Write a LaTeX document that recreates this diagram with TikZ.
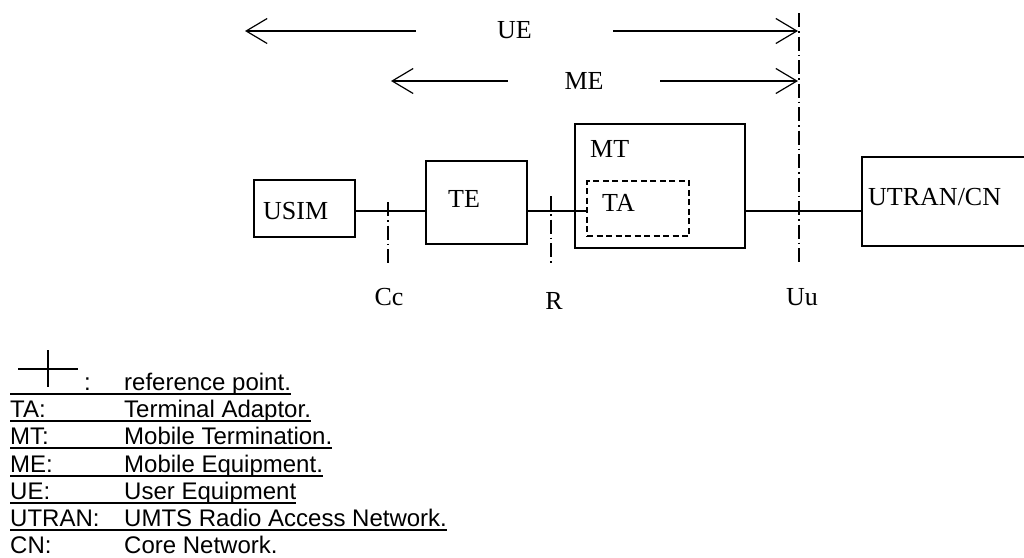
\documentclass[tikz,border=0pt]{standalone}
\usepackage{fontspec}
\setmainfont{Liberation Serif}
\newfontfamily\legendfont{Liberation Sans}
\usetikzlibrary{arrows.meta}

\begin{document}
\begin{tikzpicture}[x=1pt,y=-1pt,
    box/.style={draw,line width=1.5pt,inner sep=0pt,anchor=north west},
    lbl/.style={inner sep=0pt,font=\fontsize{26pt}{30pt}\selectfont},
    leg/.style={inner sep=0pt,anchor=base west,font=\legendfont\fontsize{24pt}{28pt}\selectfont},
    wire/.style={line width=1.5pt},
    arr/.style={line width=1.2pt,-{Straight Barb[length=21pt,width=25pt,line width=1.2pt]}},
    refline/.style={line width=1.3pt,dash pattern=on 14pt off 4pt on 1.5pt off 4pt},
    uline/.style={line width=2pt}]
    \useasboundingbox (0,0) rectangle (1024,557);
    \clip (0,0) rectangle (1024,557);
    % boxes
    \node[box,minimum width=101pt,minimum height=57pt] (usim) at (253,179) {};
    \node[box,minimum width=101pt,minimum height=83pt] (te) at (425,160) {};
    \node[box,minimum width=170pt,minimum height=124pt] (mt) at (574,123) {};
    \node[box,line width=2pt,dash pattern=on 6pt off 3.5pt,minimum width=102pt,minimum height=55pt] (ta) at (586,180) {};
    \node[box,minimum width=190pt,minimum height=89pt] (utran) at (861,156) {};
    \node[lbl,anchor=base west] (usimtxt) at (263,219) {USIM};
    \node[lbl,anchor=base west] (tetxt) at (448,207) {TE};
    \node[lbl,anchor=base west] (mttxt) at (590,157) {MT};
    \node[lbl,anchor=base west] (tatxt) at (602,211) {TA};
    \node[lbl,anchor=base west] (utrantxt) at (868,205) {UTRAN/CN};
    % links
    \coordinate (bus) at (0,211);
    \draw[wire] (usim.east |- bus) -- (te.west |- bus);
    \draw[wire] (te.east |- bus) -- (ta.west |- bus);
    \draw[wire] (mt.east |- bus) -- (utran.west |- bus);
    % reference points
    \coordinate (cctop) at (388,202);
    \coordinate (ccbot) at (388,263);
    \coordinate (rtop) at (551,196);
    \coordinate (rbot) at (551,264);
    \coordinate (uutop) at (799,13);
    \coordinate (uubot) at (799,262);
    \draw[refline] (cctop) -- (ccbot);
    \draw[refline] (rtop) -- (rbot);
    \draw[refline] (uutop) -- (uubot);
    \node[lbl,anchor=base] (cc) at (389,305) {Cc};
    \node[lbl,anchor=base] (r) at (554,309) {R};
    \node[lbl,anchor=base] (uu) at (802,305) {Uu};
    % UE and ME spans
    \node[lbl,anchor=base,minimum width=197pt] (ue) at (514.5,38) {UE};
    \node[lbl,anchor=base,minimum width=152pt] (me) at (584,89) {ME};
    \coordinate (uel) at (245,31);
    \coordinate (uer) at (798,31);
    \coordinate (mel) at (391,81);
    \coordinate (mer) at (798,81);
    \draw[arr] (ue.west |- uel) -- (uel);
    \draw[arr] (ue.east |- uer) -- (uer);
    \draw[arr] (me.west |- mel) -- (mel);
    \draw[arr] (me.east |- mer) -- (mer);
    % legend
    \draw[line width=1.5pt] (18,369) -- (78,369) (48,350) -- (48,387);
    \coordinate (legl) at (10,390);
    \node[leg] (colon) at (84,390) {:};
    \node[leg] (reftxt) at (124,390) {reference point.};
    \node[leg] (talbl) at (10,417) {TA:};
    \node[leg] (tadesc) at (124,417) {Terminal Adaptor.};
    \node[leg] (mtlbl) at (10,444) {MT:};
    \node[leg] (mtdesc) at (124,444) {Mobile Termination.};
    \node[leg] (melbl) at (10,472) {ME:};
    \node[leg] (medesc) at (124,472) {Mobile Equipment.};
    \node[leg] (uelbl) at (10,499) {UE:};
    \node[leg] (uedesc) at (124,499) {User Equipment};
    \node[leg] (utranlbl) at (10,526) {UTRAN:};
    \node[leg] (utrandesc) at (124,526) {UMTS Radio Access Network.};
    \node[leg] (cnlbl) at (10,553) {CN:};
    \node[leg] (cndesc) at (124,553) {Core Network.};
    \draw[uline] ([yshift=-4pt]legl) -- ([yshift=-4pt]reftxt.base east);
    \draw[uline] ([yshift=-4pt]talbl.base west) -- ([yshift=-4pt]tadesc.base east);
    \draw[uline] ([yshift=-4pt]mtlbl.base west) -- ([yshift=-4pt]mtdesc.base east);
    \draw[uline] ([yshift=-4pt]melbl.base west) -- ([yshift=-4pt]medesc.base east);
    \draw[uline] ([yshift=-4pt]uelbl.base west) -- ([yshift=-4pt]uedesc.base east);
    \draw[uline] ([yshift=-4pt]utranlbl.base west) -- ([yshift=-4pt]utrandesc.base east);
\end{tikzpicture}
\end{document}
